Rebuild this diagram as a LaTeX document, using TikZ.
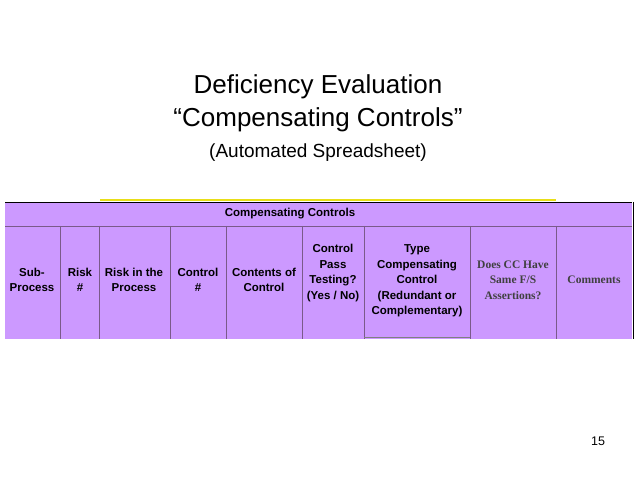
\documentclass[tikz,border=0pt]{standalone}
\usepackage{fontspec}
\setmainfont{Liberation Sans}
\newfontfamily\tnr{Liberation Serif}
\definecolor{purp}{HTML}{CC99FF}
\definecolor{gridc}{HTML}{7A5A8A}
\begin{document}
\begin{tikzpicture}[x=1pt,y=-1pt,
  hd/.style={font=\fontsize{11.5}{15.5}\selectfont\bfseries,align=center,inner sep=0pt},
  hs/.style={font=\fontsize{11.5}{15.5}\selectfont\tnr\bfseries,align=center,text=black!75},
  ttl/.style={font=\fontsize{26}{28}\selectfont}]
\useasboundingbox (0,0) rectangle (638,478);
\fill[white] (0,0) rectangle (638,478);
\fill[purp] (5,202) rectangle (632,339);
\draw[yellow!90!black,line width=1.5pt] (100,200) -- (556,200);
\draw[black,line width=0.8pt] (5,202) -- (632,202);
\draw[black,line width=1pt] (633,202) -- (633,339);
\draw[gridc,line width=0.5pt] (5,226) -- (632,226);
\foreach \x in {60,99,170,226,302,364,470,556}{\draw[gridc,line width=0.5pt] (\x,226) -- (\x,339);}
\draw[gray,line width=1pt] (364,338) -- (470,338);
\node[hd] (cc) at (290,214) {Compensating Controls};
\node[hd] (c1) at (32,280) {Sub-\\Process};
\node[hd] (c2) at (80,280) {Risk\\\#};
\node[hd] (c3) at (134,280) {Risk in the\\Process};
\node[hd] (c4) at (198,280) {Control\\\#};
\node[hd] (c5) at (264,280) {Contents of\\Control};
\node[hd] (c6) at (333,273) {Control\\Pass\\Testing?\\(Yes / No)};
\node[hd] (c7) at (417,281) {Type\\Compensating\\Control\\(Redundant or\\Complementary)};
\node[hd,hs] (c8) at (513,280) {Does CC Have\\Same F/S\\Assertions?};
\node[hd,hs] (c9) at (594,280) {Comments};
\node[ttl] (t1) at (318,87) {Deficiency Evaluation};
\node[ttl] (t2) at (318,120) {“Compensating Controls”};
\node[font=\fontsize{19}{21}\selectfont] (t3) at (318,153) {(Automated Spreadsheet)};
\node[font=\fontsize{12.5}{14}\selectfont] (pg) at (598,441) {15};
\end{tikzpicture}
\end{document}
